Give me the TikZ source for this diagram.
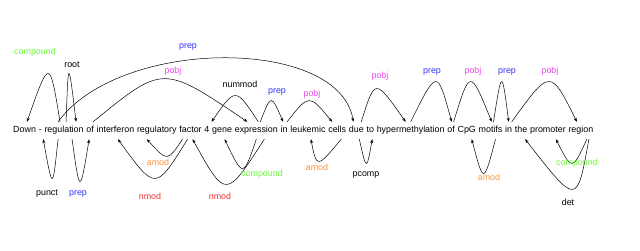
\documentclass[tikz,border=0pt]{standalone}
\usepackage{fontspec}
\setmainfont{Liberation Sans}
\usepackage{tikz}
\usetikzlibrary{arrows.meta, positioning}
\definecolor{depgreen}{RGB}{102,255,51}
\definecolor{depblue}{RGB}{51,51,255}
\definecolor{deppink}{RGB}{235,70,235}
\definecolor{deporange}{RGB}{250,150,60}
\definecolor{depred}{RGB}{245,50,50}

\begin{document}
\begin{tikzpicture}[x=1pt, y=1pt, font=\fontsize{8.9}{10}\selectfont,
    word/.style={inner xsep=0pt, inner ysep=3pt, text height=7pt, text depth=4pt},
    dep/.style={-{Stealth[length=4pt, width=3pt]}, line width=0.5pt},
    lab/.style={inner sep=0pt, text height=6.5pt, text depth=2pt}]
    \useasboundingbox (0,0) rectangle (640,250);
    % the sentence, one node per word
    \node[word, anchor=base west] (w1) at (13,118) {Down};
    \foreach \t [count=\i from 2, evaluate=\i as \j using int(\i-1)] in
      {-, regulation, of, interferon, regulatory, factor, 4, gene, expression,
       in, leukemic, cells, due, to, hypermethylation, of, CpG, motifs, in,
       the, promoter, region}
      \node[word, base right=2.4pt of w\j] (w\i) {\t};
    % arcs above the words
    \foreach \a/\sa/\b/\sb/\ca/\cb/\h in {w3/-4/w1/2.4/-10.5/22.5/64,
        w3/2/w3/12/2.3/-7.7/64, w3/-6/w14/-3/62/-14/85,
        w4/3/w10/-9/70.2/-84.8/57.3, w10/2/w8/4.6/-22.9/24.1/34.7,
        w10/4/w11/-1/10.8/-12.2/28, w11/3/w13/-5/21.9/-23.1/28,
        w15/-9/w16/-5/13.9/-31.1/44, w16/0/w17/0.6/26.5/-14.5/53.3,
        w17/2.6/w19/1.2/16.3/-21.7/53.3, w19/3/w20/0/8.2/-6.8/53.3,
        w20/3/w23/-4/38.5/-26.5/53.3}
      \draw[dep] ([xshift=\sa pt]\a.north) .. controls +(\ca,\h) and +(\cb,\h)
        .. ([xshift=\sb pt]\b.north);
    % arcs below the words
    \foreach \a/\sa/\b/\sb/\ca/\cb/\h in {w3/-6/w2/3/-5.5/9.5/-52,
        w3/8/w4/-1/7.8/-9.2/-56, w7/-8/w6/-10/-15.3/20.7/-22.7,
        w7/-3/w5/2.5/-32.3/37.7/-52, w10/8/w7/2/-38.7/33.3/-60,
        w10/0/w9/2.5/-13.3/18.7/-38.7, w13/4/w12/3/-24.3/5.7/-29.3,
        w14/3/w15/2/7.2/-5.8/-32, w19/5/w18/5/-12/12/-45.3,
        w23/6/w22/8/-14.8/16.2/-32, w23/8/w21/4/-12/52/-66.7}
      \draw[dep] ([xshift=\sa pt]\a.south) .. controls +(\ca,\h) and +(\cb,\h)
        .. ([xshift=\sb pt]\b.south);
    % relation labels
    \foreach \n/\x/\y/\c/\t in {l1/35/198/depgreen/compound, l2/72/185/black/root,
        l3/188/204/depblue/prep, l4/173/179/deppink/pobj,
        l5/240/165/black/nummod, l6/277/159/depblue/prep,
        l7/312/156/deppink/pobj, l8/380/174/deppink/pobj,
        l9/432/179/depblue/prep, l10/473/179/deppink/pobj,
        l11/507/179/depblue/prep, l12/550/179/deppink/pobj,
        l13/47/57/black/punct, l14/78/57/depblue/prep,
        l15/158/87/deporange/amod, l16/150/53/depred/nmod,
        l17/220/53/depred/nmod, l18/262/76/depgreen/compound,
        l19/317/82/deporange/amod, l20/366/76/black/pcomp,
        l21/489/72/deporange/amod, l22/577/87/depgreen/compound,
        l23/568/47/black/det}
      \node[lab, text=\c] (\n) at (\x,\y) {\t};
\end{tikzpicture}
\end{document}
